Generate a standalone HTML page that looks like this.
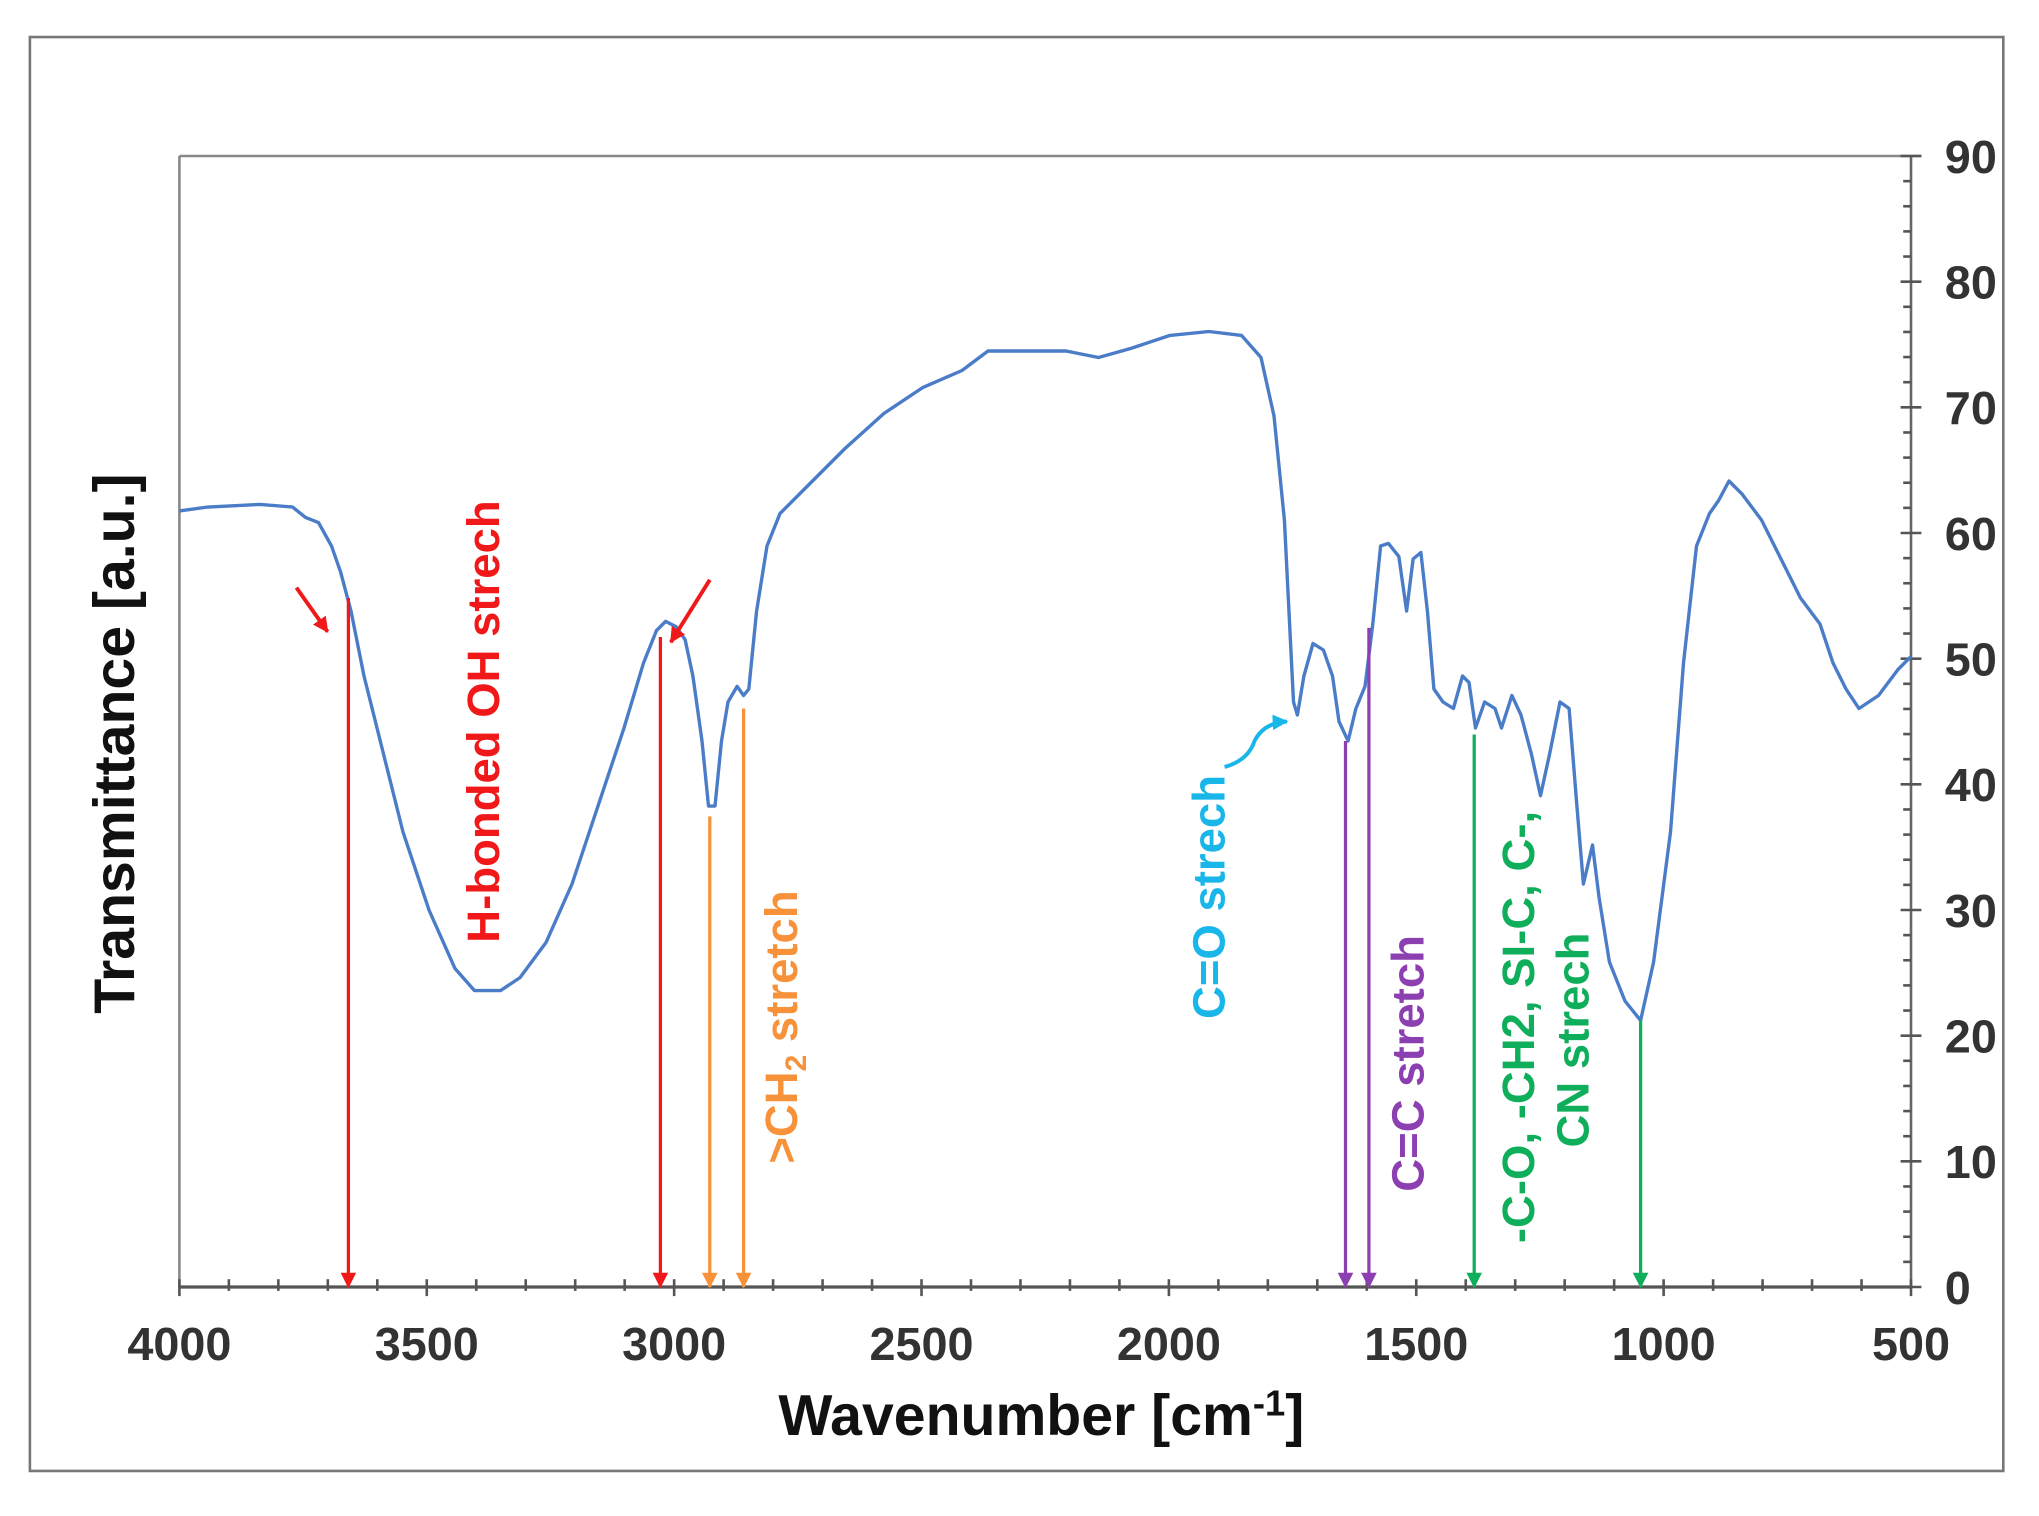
<!DOCTYPE html>
<html><head><meta charset="utf-8"><style>
html,body{margin:0;padding:0;background:#fff}
svg{display:block}
text{font-family:"Liberation Sans",Arial,sans-serif;font-weight:bold}
</style></head><body>
<svg width="2039" height="1516" viewBox="0 0 1568.46 1166.15" xmlns="http://www.w3.org/2000/svg">
<defs>
<marker id="ar" markerWidth="12" markerHeight="12" refX="11" refY="6" orient="auto" markerUnits="userSpaceOnUse"><path d="M0,0 L12,6 L0,12 z" fill="context-stroke"/></marker>
</defs>
<rect x="0" y="0" width="1568.46" height="1166.15" fill="#fff"/>
<rect x="23" y="28.5" width="1518" height="1103" fill="none" stroke="#777" stroke-width="2"/>
<line x1="138" y1="120" x2="1478" y2="120" stroke="#888" stroke-width="2"/>
<line x1="138" y1="120" x2="138" y2="990" stroke="#888" stroke-width="2"/>
<line x1="1470" y1="120" x2="1470" y2="990" stroke="#666" stroke-width="2"/>
<line x1="138" y1="990" x2="1470" y2="990" stroke="#555" stroke-width="2.5"/>
<g stroke="#555" stroke-width="2" id="ticks"></g>
<g font-size="36" fill="#333" text-anchor="middle" id="xl"></g>
<g font-size="36" fill="#333" id="yl"></g>
<polyline fill="none" stroke="#4a7cc7" stroke-width="2.6" stroke-linejoin="round" points="138,393 160,390 200,388 225,390 235,398 245,402 255,420 262,440 270,470 280,520 295,580 310,640 330,700 350,745 365,762 385,762 400,752 420,725 440,680 460,620 480,560 495,510 505,485 512,478 520,482 527,492 533,520 540,570 545,620 550,620 555,570 560,540 567,528 572,535 576,530 582,470 590,420 600,395 620,375 650,345 680,318 710,298 740,285 760,270 780,270 820,270 845,275 870,268 900,258 930,255 955,258 970,275 980,320 988,400 992,480 995,540 998,550 1003,520 1010,495 1018,500 1025,520 1030,555 1037,570 1043,545 1050,528 1056,480 1062,420 1068,418 1076,428 1082,470 1087,430 1093,425 1098,470 1103,530 1110,540 1118,545 1125,520 1130,525 1135,560 1142,540 1150,545 1155,560 1163,535 1170,550 1178,580 1185,612 1192,580 1200,540 1207,545 1213,620 1218,680 1225,650 1230,690 1238,740 1250,770 1262,785 1272,740 1285,640 1295,510 1305,420 1315,395 1322,385 1330,370 1340,380 1355,400 1370,430 1385,460 1400,480 1410,510 1420,530 1430,545 1445,535 1460,515 1470,505"/>
<g stroke-width="2.5" marker-end="url(#ar)">
<line x1="268" y1="460" x2="268" y2="990" stroke="#f01818"/>
<line x1="508" y1="490" x2="508" y2="990" stroke="#f01818"/>
<line x1="546" y1="628" x2="546" y2="990" stroke="#f7913a"/>
<line x1="572" y1="545" x2="572" y2="990" stroke="#f7913a"/>
<line x1="1035" y1="570" x2="1035" y2="990" stroke="#8c3fb0"/>
<line x1="1053" y1="483" x2="1053" y2="990" stroke="#8c3fb0"/>
<line x1="1134" y1="565" x2="1134" y2="990" stroke="#0fae5a"/>
<line x1="1262" y1="785" x2="1262" y2="990" stroke="#0fae5a"/>
<line x1="228" y1="452" x2="252" y2="486" stroke="#f01818" stroke-width="3"/>
<line x1="546" y1="446" x2="516" y2="494" stroke="#f01818" stroke-width="3"/>
</g>
<path d="M942,590 Q960,585 965,570 Q972,556 990,555" fill="none" stroke="#19b6ea" stroke-width="3" marker-end="url(#ar)"/>
<text transform="translate(384,555) rotate(-90)" font-size="35" fill="#f01818" text-anchor="middle">H-bonded OH strech</text>
<text transform="translate(613,790) rotate(-90)" font-size="35" fill="#f7913a" text-anchor="middle">&gt;CH<tspan font-size="23" dy="7">2</tspan><tspan dy="-7"> stretch</tspan></text>
<text transform="translate(942,690) rotate(-90)" font-size="35" fill="#19b6ea" text-anchor="middle">C=O strech</text>
<text transform="translate(1095,818) rotate(-90)" font-size="35" fill="#8c3fb0" text-anchor="middle">C=C stretch</text>
<text transform="translate(1180,790) rotate(-90)" font-size="35" fill="#0fae5a" text-anchor="middle">-C-O, -CH2, SI-C, C-,</text>
<text transform="translate(1222,800) rotate(-90)" font-size="35" fill="#0fae5a" text-anchor="middle">CN strech</text>
<text transform="translate(103,572) rotate(-90)" font-size="44" fill="#111" text-anchor="middle">Transmittance [a.u.]</text>
<text x="801" y="1104" font-size="44" fill="#111" text-anchor="middle">Wavenumber [cm<tspan font-size="28" dy="-15">-1</tspan><tspan dy="15">]</tspan></text>
</svg>
<script>
var ns="http://www.w3.org/2000/svg";
var t=document.getElementById("ticks"),xl=document.getElementById("xl"),yl=document.getElementById("yl");
function L(x1,y1,x2,y2){var l=document.createElementNS(ns,"line");l.setAttribute("x1",x1);l.setAttribute("y1",y1);l.setAttribute("x2",x2);l.setAttribute("y2",y2);t.appendChild(l);}
for(var i=0;i<=35;i++){var x=138+i*1332/35;if(i%5==0){L(x,984,x,997);var s=document.createElementNS(ns,"text");s.setAttribute("x",x);s.setAttribute("y",1046);s.textContent=4000-i*100;xl.appendChild(s);}else L(x,984,x,993);}
for(var j=0;j<=45;j++){var y=990-j*870/45;if(j%5==0){L(1462,y,1478,y);var s=document.createElementNS(ns,"text");s.setAttribute("x",1496);s.setAttribute("y",y+13);s.textContent=j*2;yl.appendChild(s);}else L(1464,y,1470,y);}
</script>
</body></html>
